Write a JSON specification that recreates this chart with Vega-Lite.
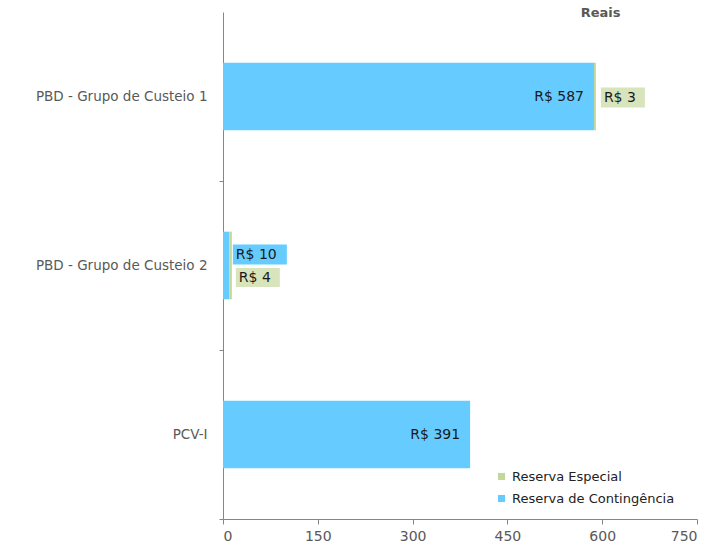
{
  "$schema": "https://vega.github.io/schema/vega-lite/v6.json",
  "autosize": "none",
  "width": 474,
  "height": 507,
  "padding": {"left": 223, "top": 12, "right": 21, "bottom": 23},
  "background": "white",
  "config": {"view": {"stroke": null}, "font": "DejaVu Sans"},
  "title": {"text": "Reais", "anchor": "end", "dx": -77, "offset": -8, "fontSize": 13, "fontWeight": "bold", "color": "#595959", "font": "DejaVu Sans"},
  "data": {"values": [
    {"cat": "PBD - Grupo de Custeio 1", "series": "Reserva de Contingência", "value": 587},
    {"cat": "PBD - Grupo de Custeio 1", "series": "Reserva Especial", "value": 3},
    {"cat": "PBD - Grupo de Custeio 2", "series": "Reserva de Contingência", "value": 10},
    {"cat": "PBD - Grupo de Custeio 2", "series": "Reserva Especial", "value": 4},
    {"cat": "PCV-I", "series": "Reserva de Contingência", "value": 391}
  ]},
  "transform": [
    {"joinaggregate": [{"op": "sum", "field": "value", "as": "total"}], "groupby": ["cat"]},
    {"calculate": "'R$ ' + datum.value", "as": "lab"}
  ],
  "encoding": {
    "y": {"field": "cat", "type": "nominal", "sort": null,
      "scale": {"paddingInner": 0.6, "paddingOuter": 0.3},
      "axis": {"title": null, "ticks": true, "tickOffset": 84.5, "labelOffset": -84.5, "labelColor": "#595959", "labelFontSize": 13.5, "labelPadding": 12, "labelLimit": 0, "domainColor": "#868686", "tickColor": "#868686", "tickSize": 4, "tickWidth": 1}}
  },
  "layer": [
    {
      "mark": {"type": "bar"},
      "encoding": {
        "x": {"field": "value", "type": "quantitative", "stack": "zero",
          "scale": {"domain": [0, 750], "nice": false},
          "axis": {"title": null, "values": [0, 150, 300, 450, 600, 750], "grid": false, "labelColor": "#595959", "labelFontSize": 14, "labelPadding": 5, "domainColor": "#868686", "tickColor": "#868686", "tickSize": 5}},
        "color": {"field": "series", "type": "nominal",
          "scale": {"domain": ["Reserva Especial", "Reserva de Contingência"], "range": ["#C4D79B", "#66CCFF"]},
          "legend": {"title": null, "orient": "none", "legendX": 272, "legendY": 458, "symbolType": "square", "symbolSize": 50, "labelFontSize": 13, "labelColor": "#222222", "labelLimit": 0, "labelOffset": 4, "rowPadding": 8, "symbolStrokeWidth": 0}},
        "order": {"field": "series", "sort": "descending"}
      }
    },
    {
      "transform": [{"filter": "datum.series == 'Reserva de Contingência' && datum.value > 100"}],
      "mark": {"type": "text", "align": "right", "dx": -10, "fontSize": 14, "color": "#1a1a1a"},
      "encoding": {"x": {"field": "value", "type": "quantitative"}, "text": {"field": "lab"}}
    },
    {
      "transform": [{"filter": "datum.cat == 'PBD - Grupo de Custeio 1' && datum.series == 'Reserva Especial'"}],
      "mark": {"type": "tick", "thickness": 44, "size": 20, "xOffset": 27, "yOffset": 1, "color": "#D8E4BC", "opacity": 1},
      "encoding": {"x": {"field": "total", "type": "quantitative"}}
    },
    {
      "transform": [{"filter": "datum.cat == 'PBD - Grupo de Custeio 2' && datum.series == 'Reserva de Contingência'"}],
      "mark": {"type": "tick", "thickness": 54, "size": 20, "xOffset": 28, "yOffset": -11, "color": "#66CCFF", "opacity": 1},
      "encoding": {"x": {"field": "total", "type": "quantitative"}}
    },
    {
      "transform": [{"filter": "datum.cat == 'PBD - Grupo de Custeio 2' && datum.series == 'Reserva Especial'"}],
      "mark": {"type": "tick", "thickness": 44, "size": 19, "xOffset": 26, "yOffset": 12, "color": "#D8E4BC", "opacity": 1},
      "encoding": {"x": {"field": "total", "type": "quantitative"}}
    },
    {
      "transform": [{"filter": "datum.cat == 'PBD - Grupo de Custeio 1' && datum.series == 'Reserva Especial'"}],
      "mark": {"type": "text", "align": "left", "dx": 8, "dy": 1, "fontSize": 14, "color": "#1a1a1a"},
      "encoding": {"x": {"field": "total", "type": "quantitative"}, "text": {"field": "lab"}}
    },
    {
      "transform": [{"filter": "datum.cat == 'PBD - Grupo de Custeio 2' && datum.series == 'Reserva de Contingência'"}],
      "mark": {"type": "text", "align": "left", "dx": 4, "dy": -11, "fontSize": 14, "color": "#1a1a1a"},
      "encoding": {"x": {"field": "total", "type": "quantitative"}, "text": {"field": "lab"}}
    },
    {
      "transform": [{"filter": "datum.cat == 'PBD - Grupo de Custeio 2' && datum.series == 'Reserva Especial'"}],
      "mark": {"type": "text", "align": "left", "dx": 7, "dy": 12, "fontSize": 14, "color": "#1a1a1a"},
      "encoding": {"x": {"field": "total", "type": "quantitative"}, "text": {"field": "lab"}}
    }
  ]
}
